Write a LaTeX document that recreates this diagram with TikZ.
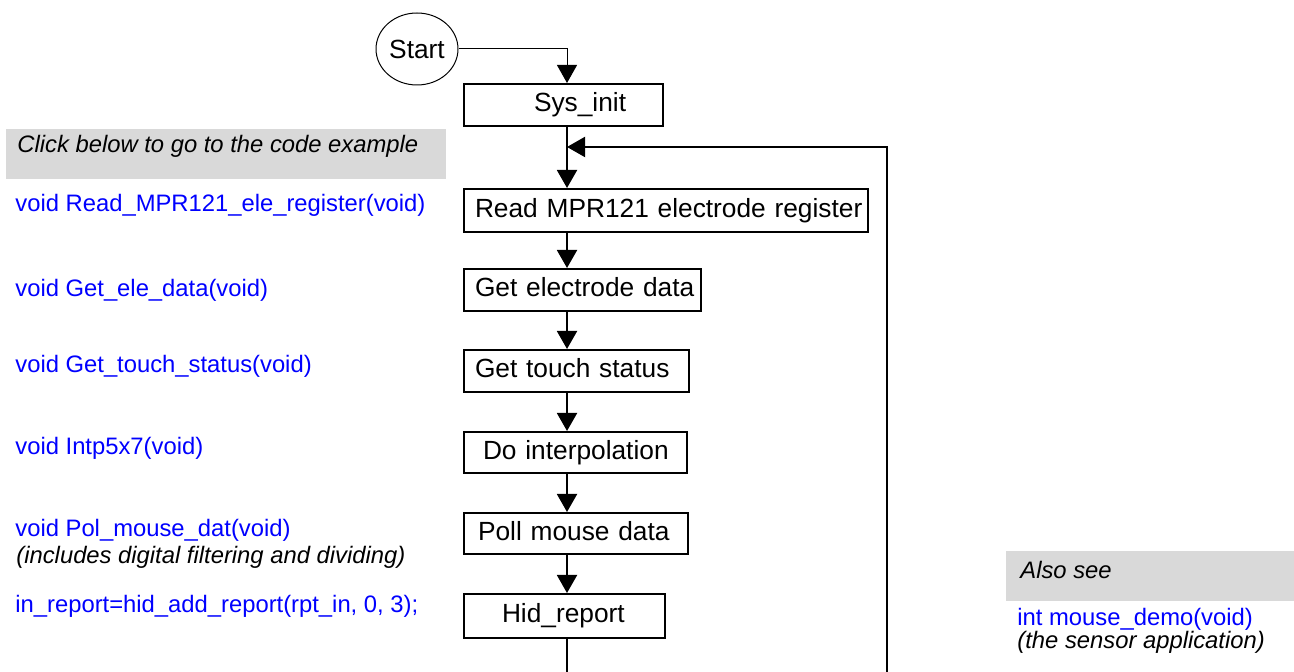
\documentclass[tikz,border=0pt]{standalone}
\usepackage{fontspec}
\setmainfont{Liberation Sans}
\usetikzlibrary{arrows.meta,shapes.geometric}
\definecolor{graybg}{HTML}{D9D9D9}
\definecolor{linkblue}{HTML}{0000FF}
\tikzset{
  boxfont/.style={font=\fontsize{13.15}{15}\selectfont},
  sidefont/.style={font=\fontsize{11.9}{14}\selectfont},
  stepbox/.style={draw=black, line width=1pt, rectangle, anchor=north west, inner xsep=0pt, inner ysep=0pt,
     align=left, boxfont, text height=9.5pt, text depth=2.8pt},
  flow/.style={draw=black, line width=1pt, -{Triangle[width=10pt,length=9pt]}},
  plainline/.style={draw=black, line width=1pt},
  sidetext/.style={anchor=base west, inner sep=0pt, sidefont, text=linkblue},
  notetext/.style={anchor=base west, inner sep=0pt, sidefont, text=black},
}
\begin{document}
\begin{tikzpicture}[x=0.5pt,y=-0.5pt]
\useasboundingbox (0,0) rectangle (1294,672);

% gray headers
\fill[graybg] (6,129) rectangle (446,179);
\fill[graybg] (1006,551) rectangle (1294,601);
\node[notetext] (clickhdr) at (17,153) {\itshape Click below to go to the code example};
\node[notetext] (alsohdr) at (1020,579) {\itshape Also see};
\node[sidetext] (mdemo) at (1017,625) {int mouse\_demo(void)};
\node[notetext] (mdemonote) at (1017,648) {\itshape (the sensor application)};

% side links
\node[sidetext] (l1) at (15,212) {void Read\_MPR121\_ele\_register(void)};
\node[sidetext] (l2) at (15,297) {void Get\_ele\_data(void)};
\node[sidetext] (l3) at (15,373) {void Get\_touch\_status(void)};
\node[sidetext] (l4) at (15,455) {void Intp5x7(void)};
\node[sidetext] (l5) at (15,537) {void Pol\_mouse\_dat(void)};
\node[notetext] (l5n) at (16,564) {\itshape (includes digital filtering and dividing)};
\node[sidetext] (l6) at (15,612) {in\_report=hid\_add\_report(rpt\_in, 0, 3);};

% start
\node[ellipse, draw=black, line width=0.5pt, minimum width=41pt, minimum height=36pt, inner sep=0pt, boxfont] (start) at (417,49) {Start};

% boxes
\node[stepbox, minimum width=99.5pt, text width=99.5pt, minimum height=21pt] (sys) at (463,83) {\hspace*{35pt}Sys\_init};
\node[stepbox, minimum width=202pt, text width=202pt, minimum height=21.5pt] (read) at (463,188) {\hspace*{5.5pt}Read MPR121 electrode register};
\node[stepbox, minimum width=118.5pt, text width=118.5pt, minimum height=21pt] (gete) at (463,268) {\hspace*{5.5pt}Get electrode data};
\node[stepbox, minimum width=112.5pt, text width=112.5pt, minimum height=21pt] (gett) at (463,349) {\hspace*{5.5pt}Get touch status};
\node[stepbox, minimum width=111.5pt, text width=111.5pt, minimum height=20.5pt] (interp) at (463,431) {\hspace*{9.5pt}Do interpolation};
\node[stepbox, minimum width=112pt, text width=112pt, minimum height=20.5pt] (poll) at (463,512) {\hspace*{7pt}Poll mouse data};
\node[stepbox, minimum width=100.5pt, text width=100.5pt, minimum height=22pt] (hid) at (463,593) {\hspace*{19pt}Hid\_report};

% helper coordinates
\coordinate (spine) at (567,0);
\coordinate (join) at (567,147);
\coordinate (hidbot) at (567,672);
\coordinate (loopbot) at (887,672);

% connectors
\draw[draw=black, line width=0.5pt, -{Triangle[width=10pt,length=9pt]}] (start.east) -| (sys.north -| spine);
\draw[flow] (sys.south -| spine) -- (read.north -| spine);
\draw[flow] (loopbot) |- (join);
\draw[flow] (read.south -| spine) -- (gete.north -| spine);
\draw[flow] (gete.south -| spine) -- (gett.north -| spine);
\draw[flow] (gett.south -| spine) -- (interp.north -| spine);
\draw[flow] (interp.south -| spine) -- (poll.north -| spine);
\draw[flow] (poll.south -| spine) -- (hid.north -| spine);
\draw[plainline] (hid.south -| spine) -- (hidbot);
\end{tikzpicture}
\end{document}
